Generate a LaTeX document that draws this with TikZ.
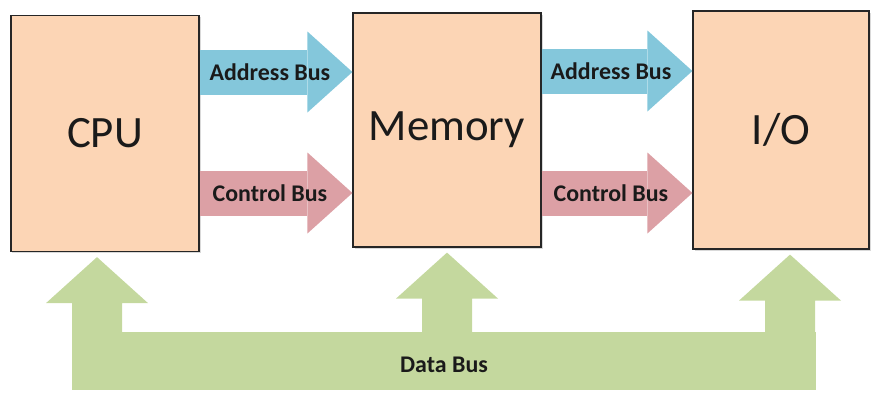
\documentclass[tikz,border=0pt]{standalone}
\usepackage{fontspec}
\setmainfont{Carlito}
\usepackage{tikz}
\usetikzlibrary{arrows.meta}
\usetikzlibrary{shadows}

\definecolor{unitfill}{HTML}{FCD5B5}
\definecolor{addrbus}{HTML}{84C7DB}
\definecolor{ctrlbus}{HTML}{DCA0A5}
\definecolor{databus}{HTML}{C4D89E}
\definecolor{inktext}{HTML}{1A1A1A}

\tikzset{
  unit/.style={draw=black!85, line width=1.2bp, fill=unitfill,
    minimum width=188bp, minimum height=236bp, inner sep=0pt,
    font=\fontsize{45}{50}\selectfont, text=inktext,
    drop shadow={shadow xshift=1.5bp, shadow yshift=-1.5bp, opacity=.3}},
  bus/.style={line width=45bp, -{Triangle[length=45bp,width=81bp,line width=0pt]}},
  buslabel/.style={font=\bfseries\fontsize{24}{28}\selectfont, text=inktext, inner sep=0pt}
}

\begin{document}
\begin{tikzpicture}[x=1bp,y=-1bp]
    \useasboundingbox (0,0) rectangle (871,393);

    \node[unit] (cpu) at (105,133.5) {CPU};
    \node[unit, minimum height=234bp] (mem) at (447,130) {Memory};
    \node[unit, minimum width=176bp, minimum height=238bp] (io) at (781,130) {I/O};

    \draw[bus, addrbus] (cpu.east |- 0,72) -- (mem.west |- 0,72) node[buslabel, pos=.46] (addr1) {Address Bus};
    \draw[bus, ctrlbus] (cpu.east |- 0,193) -- (mem.west |- 0,193) node[buslabel, pos=.46] (ctrl1) {Control Bus};
    \draw[bus, addrbus] (mem.east |- 0,71) -- (io.west |- 0,71) node[buslabel, pos=.46] (addr2) {Address Bus};
    \draw[bus, ctrlbus] (mem.east |- 0,193) -- (io.west |- 0,193) node[buslabel, pos=.46] (ctrl2) {Control Bus};

    \fill[databus] (72,332) rectangle (816,390);
    \foreach \n/\x in {cpu/97, mem/447, io/790}
        \fill[databus] (\n.south -| \x,0) ++(0,5) -- ++(51,46) -- ++(-26,0) -- ++(0,40)
            -- ++(-50,0) -- ++(0,-40) -- ++(-26,0) -- cycle;
    \node[buslabel] (data) at (444,365) {Data Bus};
\end{tikzpicture}
\end{document}
